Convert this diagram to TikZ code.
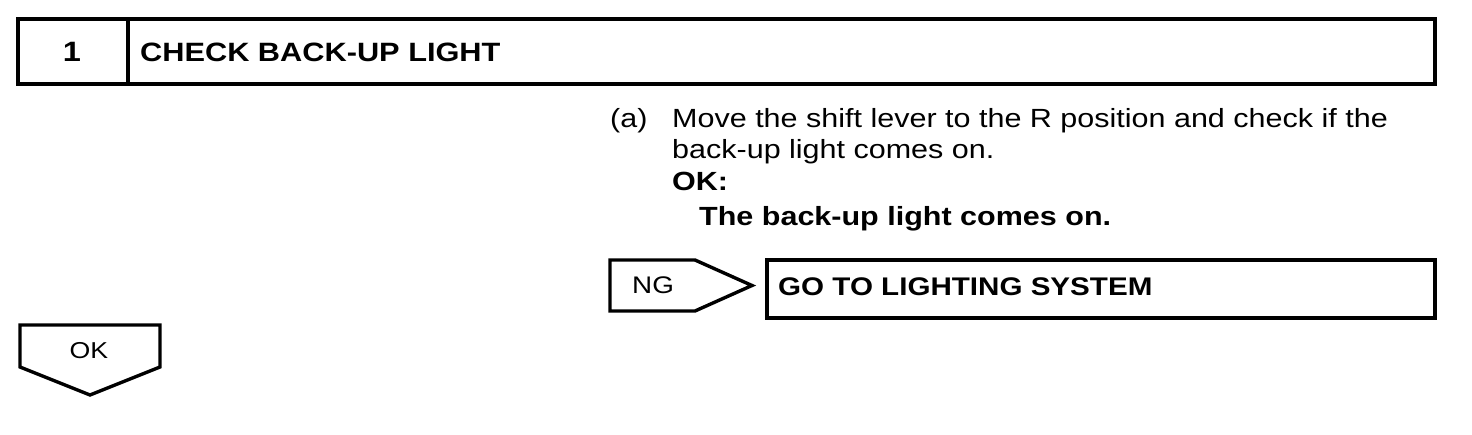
\documentclass[tikz,border=0pt]{standalone}
\usepackage{fontspec}
\setmainfont{Liberation Sans}[FakeStretch=1.16]
\usetikzlibrary{calc}

\begin{document}
\begin{tikzpicture}[x=1pt, y=-1pt, bx/.style={line width=3.4pt, line join=miter}]
            \useasboundingbox (0,0) rectangle (1472,434);

            \draw[bx] (18,19) rectangle (1435,84);
            \draw[bx] (128,19) -- (128,84);
            \node[anchor=base, font=\fontsize{28}{30}\selectfont\bfseries] (num) at (72,61) {1};
            \node[anchor=base west, inner sep=0, font=\fontsize{26.5}{30}\selectfont\bfseries] (title) at (140,61) {CHECK BACK-UP LIGHT};

            \node[anchor=base west, inner sep=0, font=\fontsize{26.3}{30}\selectfont] (item) at (610,127) {(a)};
            \node[anchor=base west, inner sep=0, font=\fontsize{26.3}{30}\selectfont] (line1) at (672,127) {Move the shift lever to the R position and check if the};
            \node[anchor=base west, inner sep=0, font=\fontsize{26.3}{30}\selectfont] (line2) at (672,158) {back-up light comes on.};
            \node[anchor=base west, inner sep=0, font=\fontsize{26.3}{30}\selectfont\bfseries] (okhead) at (672,190) {OK:};
            \node[anchor=base west, inner sep=0, font=\fontsize{26.3}{30}\selectfont\bfseries] (okline) at (699,225) {The back-up light comes on.};

            \draw[bx] (610,260) -- (695,260) -- (752,285.5) -- (695,311) -- (610,311) -- cycle;
            \node[anchor=base west, inner sep=0, font=\fontsize{24}{28}\selectfont] (ng) at (632,293) {NG};
            \draw[bx] (767,260) rectangle (1435,318);
            \node[anchor=base west, inner sep=0, font=\fontsize{25.5}{28}\selectfont\bfseries] (goto) at (778,295) {GO TO LIGHTING SYSTEM};

            \draw[bx] (20,325) -- (160,325) -- (160,367) -- (90,395) -- (20,367) -- cycle;
            \node[anchor=base, inner sep=0, font=\fontsize{23}{25}\selectfont] (ok) at (89,358) {OK};

        \end{tikzpicture}
\end{document}
